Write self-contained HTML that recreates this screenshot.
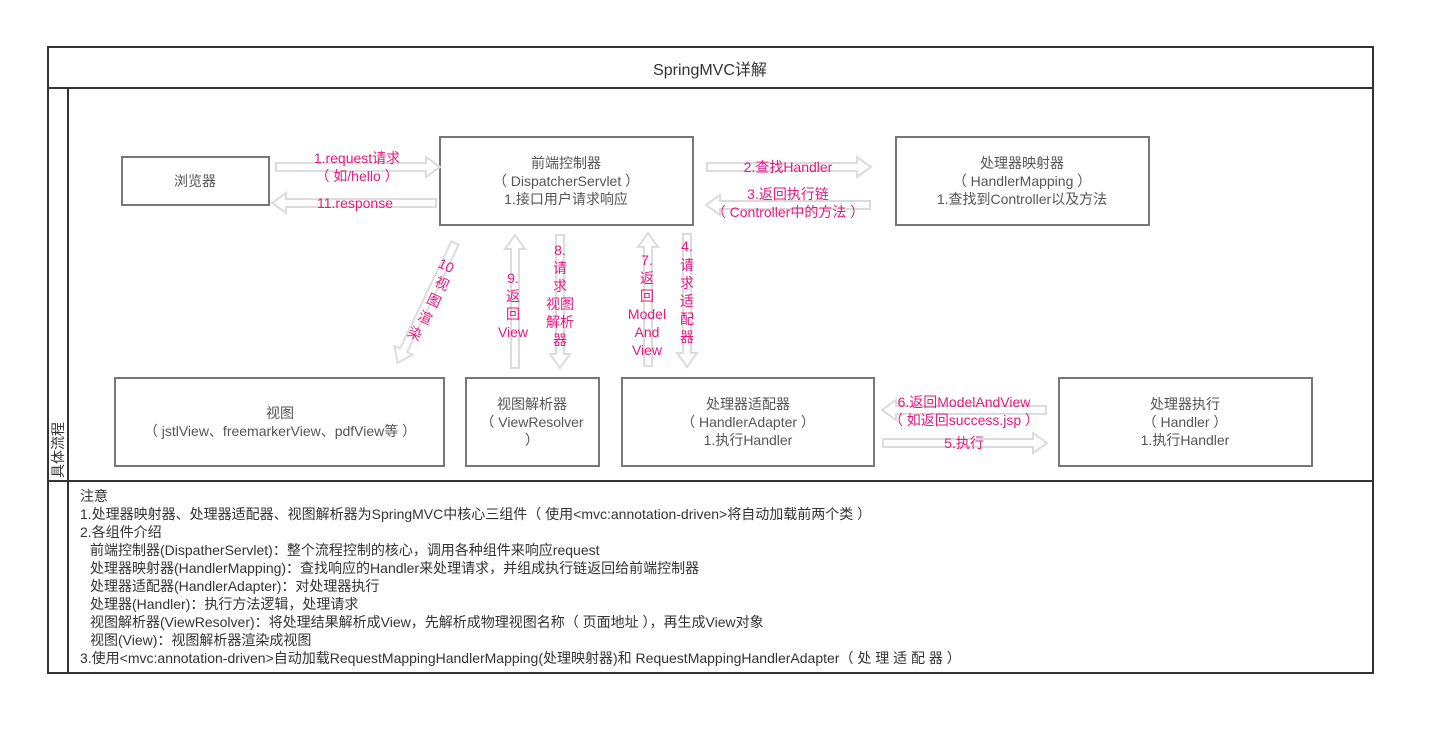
<!DOCTYPE html>
<html><head><meta charset="utf-8"><style>
body{margin:0;background:#fff;}
svg{display:block;}
text{font-family:"Liberation Sans","Noto Sans CJK SC",sans-serif;}
.b{fill:#555;font-size:14px;text-anchor:middle;}
.r{fill:#e6187f;font-size:14px;text-anchor:middle;}
.n{fill:#333;font-size:14px;}
.box{fill:#fff;stroke:#777;stroke-width:2;}
.ar{fill:#fff;stroke:#dcdcdc;stroke-width:2;}
</style></head><body>
<svg width="1435" height="735" viewBox="0 0 1435 735">
<defs>
<path id="a164" d="M0,-4 H150 V-10 L164,0 L150,10 V4 H0 Z"/>
<path id="a133" d="M0,-4 H119 V-10 L133,0 L119,10 V4 H0 Z"/>
</defs>
<rect x="48" y="47" width="1325" height="626" fill="#fff" stroke="#333" stroke-width="2"/>
<line x1="48" y1="88" x2="1373" y2="88" stroke="#333" stroke-width="2"/>
<line x1="68" y1="88" x2="68" y2="673" stroke="#333" stroke-width="2"/>
<line x1="48" y1="481" x2="1373" y2="481" stroke="#333" stroke-width="2"/>
<text x="710" y="75" style="font-size:16px;fill:#333;text-anchor:middle">SpringMVC详解</text>
<text transform="translate(63,478) rotate(-90)" style="font-size:14px;fill:#333">具体流程</text>

<rect class="box" x="122" y="157" width="147" height="48"/>
<text class="b" x="195" y="186">浏览器</text>
<rect class="box" x="440" y="137" width="253" height="88"/>
<text class="b" x="566" y="168">前端控制器</text>
<text class="b" x="566" y="186">（ DispatcherServlet ）</text>
<text class="b" x="566" y="204">1.接口用户请求响应</text>
<rect class="box" x="896" y="137" width="253" height="88"/>
<text class="b" x="1022" y="168">处理器映射器</text>
<text class="b" x="1022" y="186">（ HandlerMapping ）</text>
<text class="b" x="1022" y="204">1.查找到Controller以及方法</text>
<rect class="box" x="115" y="378" width="329" height="88"/>
<text class="b" x="280" y="418">视图</text>
<text class="b" x="280" y="436">（ jstlView、freemarkerView、pdfView等 ）</text>
<rect class="box" x="466" y="378" width="133" height="88"/>
<text class="b" x="532" y="409">视图解析器</text>
<text class="b" x="532" y="427">（ ViewResolver</text>
<text class="b" x="532" y="445">）</text>
<rect class="box" x="622" y="378" width="252" height="88"/>
<text class="b" x="748" y="409">处理器适配器</text>
<text class="b" x="748" y="427">（ HandlerAdapter ）</text>
<text class="b" x="748" y="445">1.执行Handler</text>
<rect class="box" x="1059" y="378" width="253" height="88"/>
<text class="b" x="1185" y="409">处理器执行</text>
<text class="b" x="1185" y="427">（ Handler ）</text>
<text class="b" x="1185" y="445">1.执行Handler</text>

<use href="#a164" class="ar" transform="translate(276,167)"/>
<use href="#a164" class="ar" transform="translate(436,203) rotate(180)"/>
<use href="#a164" class="ar" transform="translate(707,167)"/>
<use href="#a164" class="ar" transform="translate(870,205) rotate(180)"/>
<use href="#a164" class="ar" transform="translate(1046,410) rotate(180)"/>
<use href="#a164" class="ar" transform="translate(883,443)"/>
<use href="#a133" class="ar" transform="translate(515,368) rotate(-90)"/>
<use href="#a133" class="ar" transform="translate(560,235) rotate(90)"/>
<use href="#a133" class="ar" transform="translate(648,366) rotate(-90)"/>
<use href="#a133" class="ar" transform="translate(687,234) rotate(90)"/>
<use href="#a133" class="ar" transform="translate(455,243) rotate(115.6)"/>

<text class="r" x="357" y="163">1.request请求</text>
<text class="r" x="357" y="181">（ 如/hello ）</text>
<text class="r" x="355" y="208">11.response</text>
<text class="r" x="788" y="172">2.查找Handler</text>
<text class="r" x="788" y="199">3.返回执行链</text>
<text class="r" x="788" y="217">（ Controller中的方法 ）</text>
<text class="r" x="964" y="407">6.返回ModelAndView</text>
<text class="r" x="964" y="425">（ 如返回success.jsp ）</text>
<text class="r" x="964" y="448">5.执行</text>

<text transform="translate(444,270) rotate(25)" class="r">10</text>
<text transform="translate(440,288) rotate(25)" class="r">视</text>
<text transform="translate(432,305) rotate(25)" class="r">图</text>
<text transform="translate(423,322) rotate(25)" class="r">渲</text>
<text transform="translate(413,338) rotate(25)" class="r">染</text>
<text class="r" x="513" y="283">9.</text>
<text class="r" x="513" y="301">返</text>
<text class="r" x="513" y="319">回</text>
<text class="r" x="513" y="337">View</text>
<text class="r" x="560" y="255">8.</text>
<text class="r" x="560" y="273">请</text>
<text class="r" x="560" y="291">求</text>
<text class="r" x="560" y="309">视图</text>
<text class="r" x="560" y="327">解析</text>
<text class="r" x="560" y="345">器</text>
<text class="r" x="647" y="265">7.</text>
<text class="r" x="647" y="283">返</text>
<text class="r" x="647" y="301">回</text>
<text class="r" x="647" y="319">Model</text>
<text class="r" x="647" y="337">And</text>
<text class="r" x="647" y="355">View</text>
<text class="r" x="687" y="251">4.</text>
<text class="r" x="687" y="270">请</text>
<text class="r" x="687" y="288">求</text>
<text class="r" x="687" y="306">适</text>
<text class="r" x="687" y="324">配</text>
<text class="r" x="687" y="342">器</text>

<g class="n">
<text x="80" y="501">注意</text>
<text x="80" y="519">1.处理器映射器、处理器适配器、视图解析器为SpringMVC中核心三组件（ 使用&lt;mvc:annotation-driven&gt;将自动加载前两个类 ）</text>
<text x="80" y="537">2.各组件介绍</text>
<text x="90" y="555">前端控制器(DispatherServlet)：整个流程控制的核心，调用各种组件来响应request</text>
<text x="90" y="573">处理器映射器(HandlerMapping)：查找响应的Handler来处理请求，并组成执行链返回给前端控制器</text>
<text x="90" y="591">处理器适配器(HandlerAdapter)：对处理器执行</text>
<text x="90" y="609">处理器(Handler)：执行方法逻辑，处理请求</text>
<text x="90" y="627">视图解析器(ViewResolver)：将处理结果解析成View，先解析成物理视图名称（ 页面地址 ），再生成View对象</text>
<text x="90" y="645">视图(View)：视图解析器渲染成视图</text>
<text x="80" y="663">3.使用&lt;mvc:annotation-driven&gt;自动加载RequestMappingHandlerMapping(处理映射器)和 RequestMappingHandlerAdapter（ 处 理 适 配 器 ）</text>
</g>
</svg>
</body></html>
